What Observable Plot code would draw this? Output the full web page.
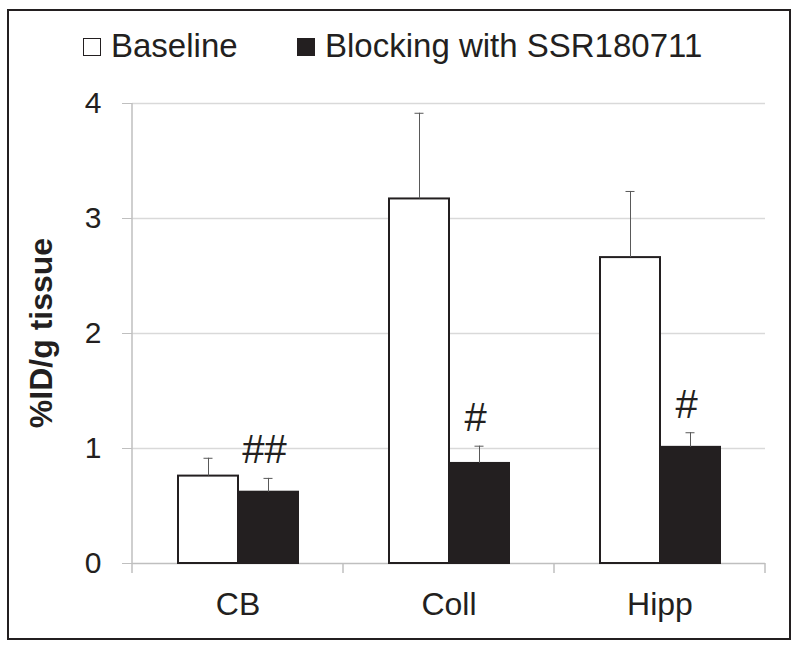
<!DOCTYPE html>
<html><head><meta charset="utf-8">
<script src="https://cdn.jsdelivr.net/npm/d3@7"></script>
<script src="https://cdn.jsdelivr.net/npm/@observablehq/plot@0.6"></script>
<style>
body{margin:0;background:#fff;font-family:"Liberation Sans",Arial,sans-serif;color:#231f20}
#wrap{position:relative;width:800px;height:648px;overflow:hidden;background:#fff}
#border{position:absolute;left:7px;top:9px;width:780px;height:627px;border:2.5px solid #231f20;pointer-events:none}
.lt{position:absolute;top:29px;font-size:33px;line-height:33px;white-space:nowrap}
.sq{position:absolute;top:38px;width:16px;height:16px;border:1.5px solid #231f20;box-sizing:content-box}
#ytitle{position:absolute;left:41px;top:333px;transform:translate(-50%,-50%) rotate(-90deg);font-weight:bold;font-size:32px;white-space:nowrap}
#chart{position:absolute;left:0;top:0}
</style>
</head><body>
<div id="wrap">
  <div id="chart"></div>
  <div class="sq" style="left:83px;background:#fff"></div>
  <div class="lt" style="left:111px">Baseline</div>
  <div class="sq" style="left:297px;background:#231f20"></div>
  <div class="lt" style="left:325px">Blocking with SSR180711</div>
  <div id="ytitle">%ID/g tissue</div>
  <div id="border"></div>
</div>
<script>
const categories = ["CB", "Coll", "Hipp"];
const series = ["Baseline", "Blocking with SSR180711"];
const baselineMean = [0.76, 3.17, 2.66];
const baselineErr = [0.155, 0.745, 0.575];
const blockingMean = [0.62, 0.87, 1.01];
const blockingErr = [0.12, 0.15, 0.127];
const blockingMarks = ["##", "#", "#"];
const yTicks = [0, 1, 2, 3, 4];
const gridValues = [1, 2, 3, 4];

const data = [];
categories.forEach((c, i) => {
  data.push({category: c, series: series[0], mean: baselineMean[i], err: baselineErr[i], mark: ""});
  data.push({category: c, series: series[1], mean: blockingMean[i], err: blockingErr[i], mark: blockingMarks[i]});
});

const ink = "#231f20";
const chart = Plot.plot({
  width: 800, height: 648,
  marginTop: 103, marginBottom: 85, marginLeft: 132, marginRight: 35,
  style: {fontFamily: "'Liberation Sans', Arial, sans-serif", color: ink, background: "transparent", overflow: "visible"},
  fx: {domain: categories, padding: 0, label: null},
  x: {domain: series, paddingInner: 0, paddingOuter: 0.73, axis: null},
  y: {domain: [0, 4], label: null},
  color: {domain: series, range: ["#ffffff", ink]},
  marks: [
    Plot.ruleY(gridValues, {stroke: "#d9d9d9", strokeWidth: 1.5}),
    Plot.ruleY([0], {stroke: "#bfbfbf", strokeWidth: 1.5}),
    Plot.barY(data, {fx: "category", x: "series", y: "mean", fill: "series", stroke: ink, strokeWidth: 2}),
    Plot.ruleX(data, {fx: "category", x: "series", y1: "mean", y2: d => d.mean + d.err, stroke: "#595959", strokeWidth: 1}),
    Plot.tickY(data, {fx: "category", x: "series", y: d => d.mean + d.err, stroke: "#595959", strokeWidth: 1, insetLeft: 25.5, insetRight: 25.5}),
    Plot.text(data.filter(d => d.mark), {fx: "category", x: "series", y: d => d.mean + d.err, text: "mark", fontSize: 40, lineAnchor: "bottom", dy: -15, dx: -4, fill: ink}),
    Plot.axisY({ticks: yTicks, tickFormat: d3.format("d"), tickSize: 10, tickPadding: 21, fontSize: 30, stroke: "#bfbfbf", fill: ink, label: null}),
    Plot.axisFx({anchor: "bottom", tickSize: 0, tickPadding: 29, fontSize: 32, fill: ink, label: null})
  ]
});
document.getElementById("chart").appendChild(chart);

// axis line and category-boundary ticks, placed with Plot's own scales
const fx = chart.scale("fx"), y = chart.scale("y");
const y0 = y.apply(0), yTop = y.apply(4);
const left = fx.apply(categories[0]);
const edges = categories.map(c => fx.apply(c)).concat([fx.apply(categories[categories.length - 1]) + fx.bandwidth]);
const svg = d3.select(chart);
const g = svg.append("g").attr("stroke", "#bfbfbf").attr("stroke-width", 1.5);
g.append("line").attr("x1", left).attr("x2", left).attr("y1", y0).attr("y2", yTop);
g.selectAll("line.edge").data(edges).join("line").attr("class", "edge")
  .attr("x1", d => d).attr("x2", d => d).attr("y1", y0).attr("y2", y0 + 10);
</script>
</body></html>
